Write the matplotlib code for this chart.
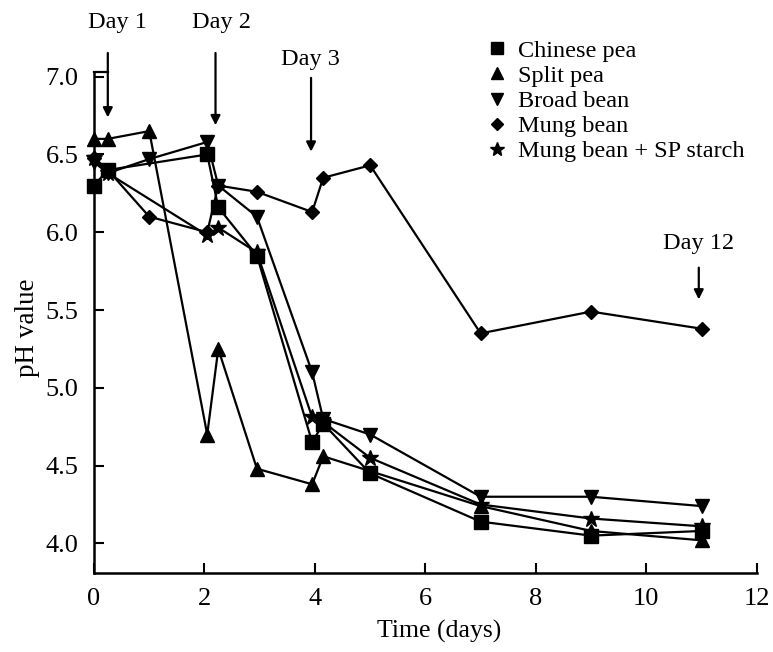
import matplotlib
matplotlib.use('Agg')
from matplotlib import pyplot as plt
from matplotlib.lines import Line2D

# pH readings per legume (time in days)
chinese_x = [0, 0.25, 2.05, 2.25, 2.95, 3.95, 4.15, 5.0, 7.0, 9.0, 11.0]
chinese_y = [6.30, 6.40, 6.50, 6.16, 5.85, 4.65, 4.77, 4.45, 4.14, 4.05, 4.08]

split_x = [0, 0.25, 1.0, 2.05, 2.25, 2.95, 3.95, 4.15, 7.0, 9.0, 11.0]
split_y = [6.60, 6.60, 6.65, 4.70, 5.25, 4.48, 4.38, 4.56, 4.24, 4.08, 4.02]

broad_x = [0, 0.25, 1.0, 2.05, 2.25, 2.95, 3.95, 4.15, 5.0, 7.0, 9.0, 11.0]
broad_y = [6.45, 6.38, 6.47, 6.58, 6.30, 6.10, 5.10, 4.80, 4.70, 4.30, 4.30, 4.24]

mung_x = [0, 0.25, 1.0, 2.05, 2.25, 2.95, 3.95, 4.15, 5.0, 7.0, 9.0, 11.0]
mung_y = [6.48, 6.40, 6.10, 6.00, 6.30, 6.26, 6.13, 6.35, 6.43, 5.35, 5.49, 5.38]

mungsp_x = [0, 0.25, 2.05, 2.25, 2.95, 3.95, 4.15, 5.0, 7.0, 9.0, 11.0]
mungsp_y = [6.48, 6.38, 5.98, 6.03, 5.87, 4.81, 4.78, 4.55, 4.25, 4.16, 4.11]

labels = ['Chinese pea', 'Split pea', 'Broad bean', 'Mung bean', 'Mung bean + SP starch']
markers = ['s', '^', 'v', 'D', '*']

# sampling days marked with arrows: (label, x, arrow top, arrow tip, text x, text y)
day_marks = [('Day 1', 0.25, 7.17, 6.72, 0.43, 7.35),
             ('Day 2', 2.2, 7.17, 6.67, 2.31, 7.35),
             ('Day 3', 3.93, 7.01, 6.50, 3.91, 7.11),
             ('Day 12', 10.95, 5.79, 5.55, 10.94, 5.93)]

plt.rcParams['font.family'] = ['Liberation Serif', 'DejaVu Serif']

fig = plt.figure(figsize=(7.73, 6.52), dpi=100)
ax = fig.add_axes([0.1216, 0.1212, 0.979 - 0.1216, 0.8896 - 0.1212])

series = [(chinese_x, chinese_y), (split_x, split_y), (broad_x, broad_y),
          (mung_x, mung_y), (mungsp_x, mungsp_y)]
sizes = [9.5, 9.5, 9.5, 7, 12]
for (xs, ys), m, ms in zip(series, markers, sizes):
	ax.plot(xs, ys, color='black', lw=1.6, marker=m, markersize=ms,
	        markerfacecolor='black', markeredgecolor='black', clip_on=False)

ax.set_xlim(0, 12)
ax.set_ylim(3.81, 7.03)
ax.set_xticks([0, 2, 4, 6, 8, 10, 12])
ax.set_yticks([4.0, 4.5, 5.0, 5.5, 6.0, 6.5, 7.0])
ax.set_yticklabels(['4.0', '4.5', '5.0', '5.5', '6.0', '6.5', '7.0'])
ax.tick_params(axis='both', direction='in', length=7, width=1.5, labelsize=19)
ax.tick_params(axis='x', pad=11)
ax.tick_params(axis='y', pad=11)
for side in ['top', 'right']:
	ax.spines[side].set_visible(False)
for side in ['left', 'bottom']:
	ax.spines[side].set_linewidth(1.8)

ax.set_xlabel('Time (days)', fontsize=18.5)
ax.set_ylabel('pH value', fontsize=19.5)
ax.xaxis.set_label_coords(0.521, -0.094)
ax.yaxis.set_label_coords(-0.082, 0.49)

# bracket joining the y axis to the Day 1 arrow
ax.plot([0, 0.25], [7.03, 7.03], color='black', lw=1.6, clip_on=False)

for lab, x, ytop, ytip, tx, ty in day_marks:
	ax.annotate('', xy=(x, ytip), xytext=(x, ytop), annotation_clip=False,
	            arrowprops=dict(arrowstyle='-|>', color='black', lw=1.6, mutation_scale=14))
	ax.text(tx, ty, lab, fontsize=17.5, ha='center', va='center', clip_on=False)

handles = [Line2D([], [], linestyle='none', marker=m, color='black', markersize=ms * 0.9)
           for m, ms in zip(markers, sizes)]
fig.legend(handles, labels, loc='upper left', bbox_to_anchor=(0.631, 0.939),
           frameon=False, fontsize=17.5, handlelength=0.8, handletextpad=0.45,
           labelspacing=0.13, borderpad=0, borderaxespad=0)

plt.savefig('out.png', dpi=100)
